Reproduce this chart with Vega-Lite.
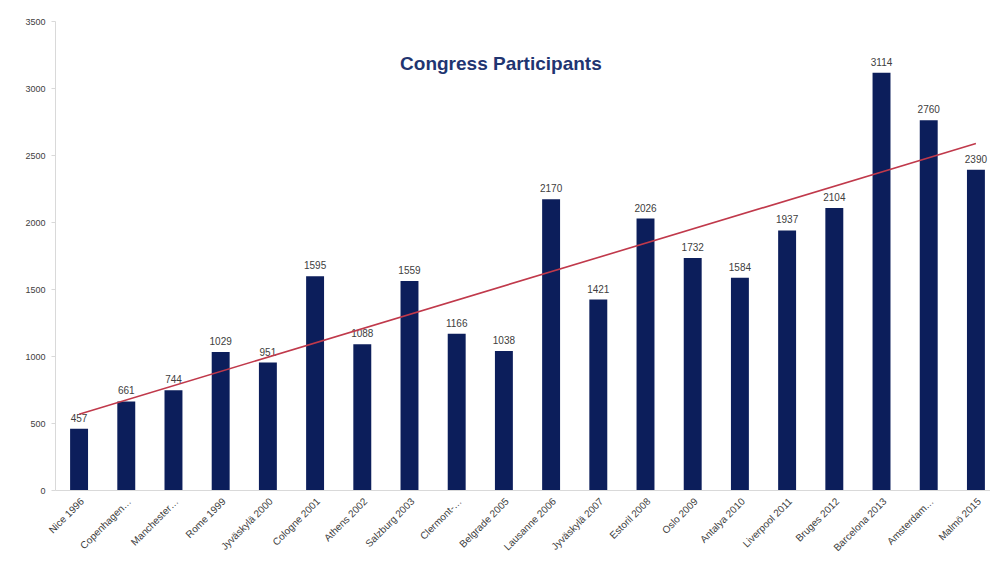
{
  "$schema": "https://vega.github.io/schema/vega-lite/v6.json",
  "autosize": {"type": "none"},
  "padding": {"left": 55, "top": 21, "right": 0, "bottom": 78},
  "width": 945,
  "height": 469,
  "background": "#ffffff",
  "config": {"view": {"stroke": null}, "font": "Liberation Sans"},
  "datasets": {
    "bars": [
      {"city": "Nice 1996", "participants": 457},
      {"city": "Copenhagen…", "participants": 661},
      {"city": "Manchester…", "participants": 744},
      {"city": "Rome 1999", "participants": 1029},
      {"city": "Jyväskylä 2000", "participants": 951},
      {"city": "Cologne 2001", "participants": 1595},
      {"city": "Athens 2002", "participants": 1088},
      {"city": "Salzburg 2003", "participants": 1559},
      {"city": "Clermont-…", "participants": 1166},
      {"city": "Belgrade 2005", "participants": 1038},
      {"city": "Lausanne 2006", "participants": 2170},
      {"city": "Jyväskylä 2007", "participants": 1421},
      {"city": "Estoril 2008", "participants": 2026},
      {"city": "Oslo 2009", "participants": 1732},
      {"city": "Antalya 2010", "participants": 1584},
      {"city": "Liverpool 2011", "participants": 1937},
      {"city": "Bruges 2012", "participants": 2104},
      {"city": "Barcelona 2013", "participants": 3114},
      {"city": "Amsterdam…", "participants": 2760},
      {"city": "Malmö 2015", "participants": 2390}
    ],
    "trend": [
      {"city": "Nice 1996", "participants": 566},
      {"city": "Malmö 2015", "participants": 2586}
    ],
    "title": [
      {"city": "Belgrade 2005", "participants": 3180, "label": "Congress Participants"}
    ]
  },
  "layer": [
    {
      "data": {"name": "bars"},
      "mark": {"type": "bar", "color": "#0C1E5B"},
      "encoding": {
        "x": {
          "field": "city", "type": "nominal", "sort": null,
          "scale": {"paddingInner": 0.62, "paddingOuter": 0.32},
          "axis": {
            "title": null, "labelAngle": -45, "labelFontSize": 10,
            "labelColor": "#404040", "domainColor": "#d9d9d9", "ticks": false,
            "labelPadding": 6
          }
        },
        "y": {
          "field": "participants", "type": "quantitative",
          "scale": {"domain": [0, 3500]},
          "axis": {
            "title": null, "values": [0, 500, 1000, 1500, 2000, 2500, 3000, 3500],
            "format": "d",
            "grid": false, "labelFontSize": 9, "labelColor": "#404040",
            "domainColor": "#d9d9d9", "tickColor": "#d9d9d9", "tickSize": 4,
            "labelPadding": 6
          }
        }
      }
    },
    {
      "data": {"name": "bars"},
      "mark": {"type": "text", "dy": -10, "fontSize": 10, "color": "#404040"},
      "encoding": {
        "x": {"field": "city", "type": "nominal", "sort": null},
        "y": {"field": "participants", "type": "quantitative"},
        "text": {"field": "participants", "type": "quantitative", "format": "d"}
      }
    },
    {
      "data": {"name": "trend"},
      "mark": {"type": "line", "color": "#C0394B", "strokeWidth": 1.6},
      "encoding": {
        "x": {"field": "city", "type": "nominal", "sort": null},
        "y": {"field": "participants", "type": "quantitative"}
      }
    },
    {
      "data": {"name": "title"},
      "mark": {"type": "text", "fontSize": 19, "fontWeight": "bold", "color": "#1F3571", "dx": -3},
      "encoding": {
        "x": {"field": "city", "type": "nominal", "sort": null},
        "y": {"field": "participants", "type": "quantitative"},
        "text": {"field": "label"}
      }
    }
  ]
}
